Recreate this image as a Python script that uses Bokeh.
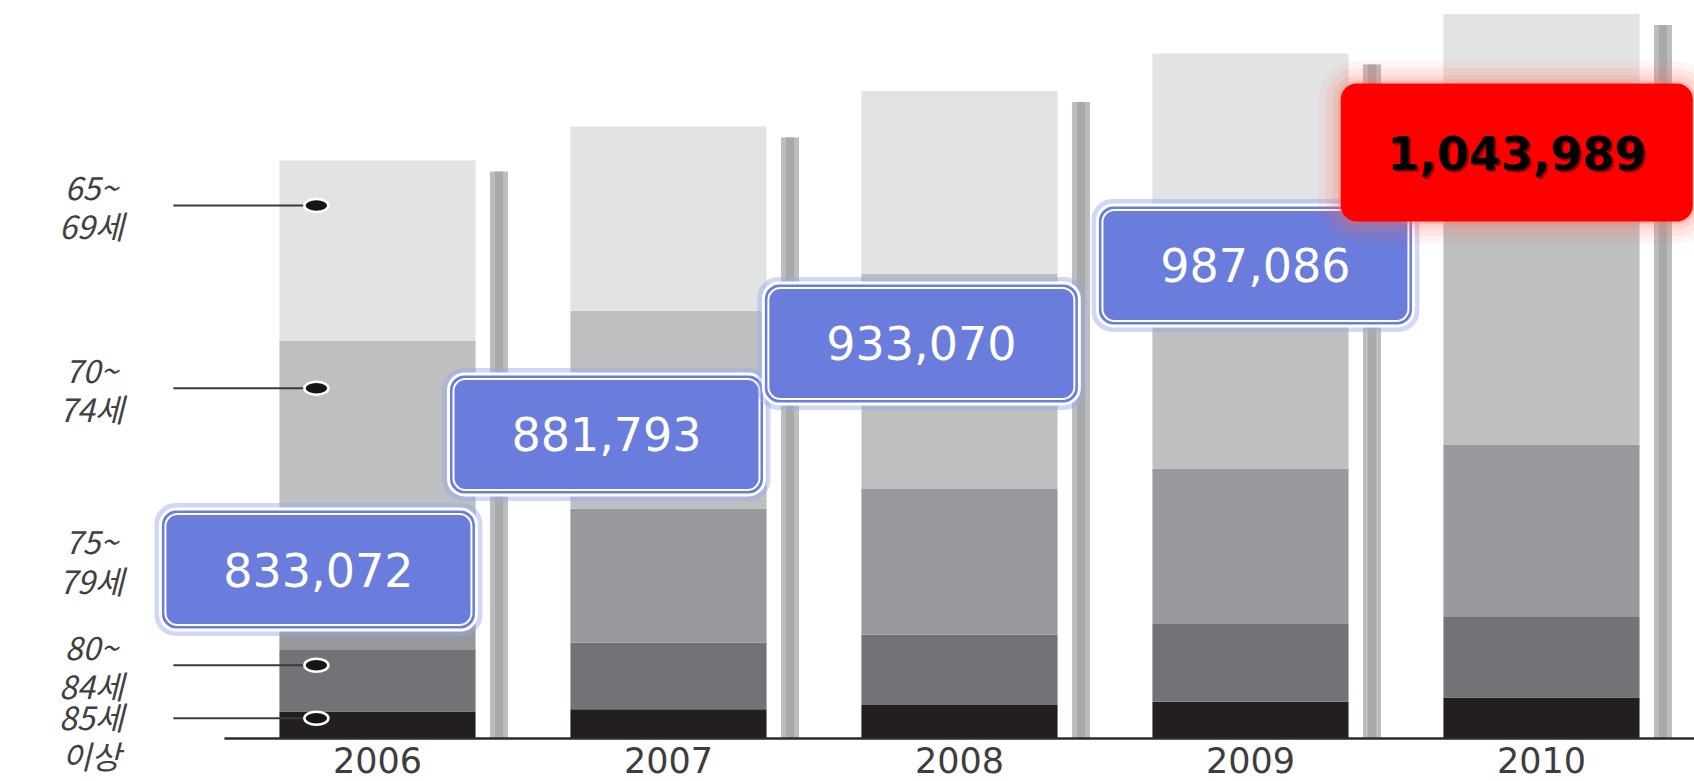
from bokeh.plotting import figure
from bokeh.models import Range1d
from bokeh.embed import file_html
from bokeh.resources import INLINE
from bokeh.core.properties import value

# ---------------- data ----------------
years = ["2006", "2007", "2008", "2009", "2010"]
groups = ["85세 이상", "80~84세", "75~79세", "70~74세", "65~69세"]          # bottom -> top
group_labels = ["85세\n이상", "80~\n84세", "75~\n79세", "70~\n74세", "65~\n69세"]
age_85_plus = [38900, 42000, 48300, 52900, 59200]
age_80_84 = [88750, 96500, 101200, 112100, 116800]
age_75_79 = [172800, 193000, 210200, 224200, 247600]
age_70_74 = [272500, 285000, 309800, 331600, 351900]
age_65_69 = [260122, 265293, 263570, 266286, 268489]
series = [age_85_plus, age_80_84, age_75_79, age_70_74, age_65_69]
colors = ["#231f20", "#727376", "#98999c", "#bebfc1", "#e2e3e5"]

totals = [sum(s[i] for s in series) for i in range(len(years))]
total_text = [f"{t:,}" for t in totals]

# ---------------- figure ----------------
W, H = 1694, 781
XS, XE = -1.2955, 4.5258
YS, YE = -61963, 1063458
PX = (XE - XS) / W     # one pixel in x data units
PY = (YE - YS) / H     # one pixel in y data units

p = figure(width=W, height=H, output_backend="svg", toolbar_location=None,
           x_range=Range1d(XS, XE), y_range=Range1d(YS, YE),
           x_axis_type=None, y_axis_type=None, min_border=0,
           outline_line_color=None, background_fill_color="white",
           border_fill_color="white")
p.grid.visible = False

xs = list(range(len(years)))
bar_w = 0.674

# side shadow bars
side_off = 0.4175
p.vbar(x=[x + side_off for x in xs], width=0.062, bottom=0,
       top=[t - 11 * PY for t in totals], fill_color="#bcbdbf", line_color=None)
p.vbar(x=[x + side_off for x in xs], width=0.028, bottom=0,
       top=[t - 11 * PY for t in totals], fill_color="#a8a9ab", line_color=None)

# stacked bars
bottoms = [0] * len(years)
for s, c in zip(series, colors):
    tops = [b + v for b, v in zip(bottoms, s)]
    p.vbar(x=xs, width=bar_w, bottom=bottoms, top=tops, fill_color=c, line_color=None)
    bottoms = tops

# baseline
p.segment(x0=[-0.526], y0=[0], x1=[XE], y1=[0], line_color="#2b2b2b", line_width=2.5)

# year labels
p.text(x=xs, y=[-21 * PY] * len(years), text=years, text_font=value("DejaVu Sans"),
       text_font_size="35px", text_align="center", text_baseline="middle",
       text_color="#3d3d3d")

# category leader lines, dots and labels (pointing into first bar)
dot_y = []
b = 0
for s in series:
    dot_y.append(b + 0.75 * s[0])
    b += s[0]
label_shift = [-17, 0, 0, 0, 0]   # px, bottom label hangs below its line
dot_x = xs[0] - bar_w / 2 + 0.127
line_x0 = dot_x - 143 * PX
p.segment(x0=[line_x0] * 5, y0=dot_y, x1=[dot_x] * 5, y1=dot_y,
          line_color="#3a3a3a", line_width=2)
p.ellipse(x=[dot_x] * 5, y=dot_y, width=24 * PX, height=13 * PY,
          fill_color="#151515", line_color="white", line_width=2.5)
p.text(x=[line_x0 - 82 * PX] * 5, y=[d + s * PY for d, s in zip(dot_y, label_shift)],
       text=group_labels,
       text_font=value("Noto Sans CJK KR"), text_font_size="32px",
       text_font_style="italic", text_align="center", text_baseline="middle",
       text_color="#404040", text_line_height=0.85)

# annotation boxes (layout positions, in data units)
box_cx = [-0.203, 0.787, 1.869, 3.017, 3.915]
box_cy = [243500, 438100, 569200, 681600, 844400]
bw, bh = 316 * PX, 121 * PY
rw, rh = 352 * PX, 138 * PY

blue = list(range(4))
for i in blue:
    l, r = box_cx[i] - bw / 2, box_cx[i] + bw / 2
    bt, tp = box_cy[i] - bh / 2, box_cy[i] + bh / 2
    p.quad(left=[l - 3 * PX], right=[r + 3 * PX], bottom=[bt - 3 * PY], top=[tp + 3 * PY],
           fill_color=None, line_color="#9aa8ec", line_width=6, line_alpha=0.45,
           border_radius=18)
    p.quad(left=[l], right=[r], bottom=[bt], top=[tp], fill_color="#6a7cdc",
           line_color="white", line_width=3, border_radius=16)
    p.quad(left=[l + 5 * PX], right=[r - 5 * PX], bottom=[bt + 5 * PY], top=[tp - 5 * PY],
           fill_color=None, line_color="white", line_width=2, border_radius=12)

p.text(x=[box_cx[i] for i in blue], y=[box_cy[i] for i in blue],
       text=[total_text[i] for i in blue], text_font=value("DejaVu Sans"),
       text_font_size="46px", text_align="center", text_baseline="middle",
       text_color="white")

# highlighted last value
k = 4
l, r = box_cx[k] - rw / 2, box_cx[k] + rw / 2
bt, tp = box_cy[k] - rh / 2, box_cy[k] + rh / 2
for g, a in [(22, 0.07), (15, 0.1), (8, 0.15), (3, 0.2)]:
    p.quad(left=[l - g * PX], right=[r + g * PX], bottom=[bt - g * PY], top=[tp + g * PY],
           fill_color="#ff6a55", fill_alpha=a, line_color=None, border_radius=16 + g)
p.quad(left=[l], right=[r], bottom=[bt], top=[tp], fill_color="#ff0000",
       line_color=None, border_radius=16)
p.text(x=[box_cx[k] + 2 * PX], y=[box_cy[k] - 2 * PY], text=[total_text[k]],
       text_font=value("DejaVu Sans"), text_font_size="46px", text_font_style="bold",
       text_align="center", text_baseline="middle", text_color="#6a0000", text_alpha=0.7)
p.text(x=[box_cx[k]], y=[box_cy[k]], text=[total_text[k]],
       text_font=value("DejaVu Sans"), text_font_size="46px", text_font_style="bold",
       text_align="center", text_baseline="middle", text_color="black")

open("out.html", "w").write(file_html(p, INLINE))
